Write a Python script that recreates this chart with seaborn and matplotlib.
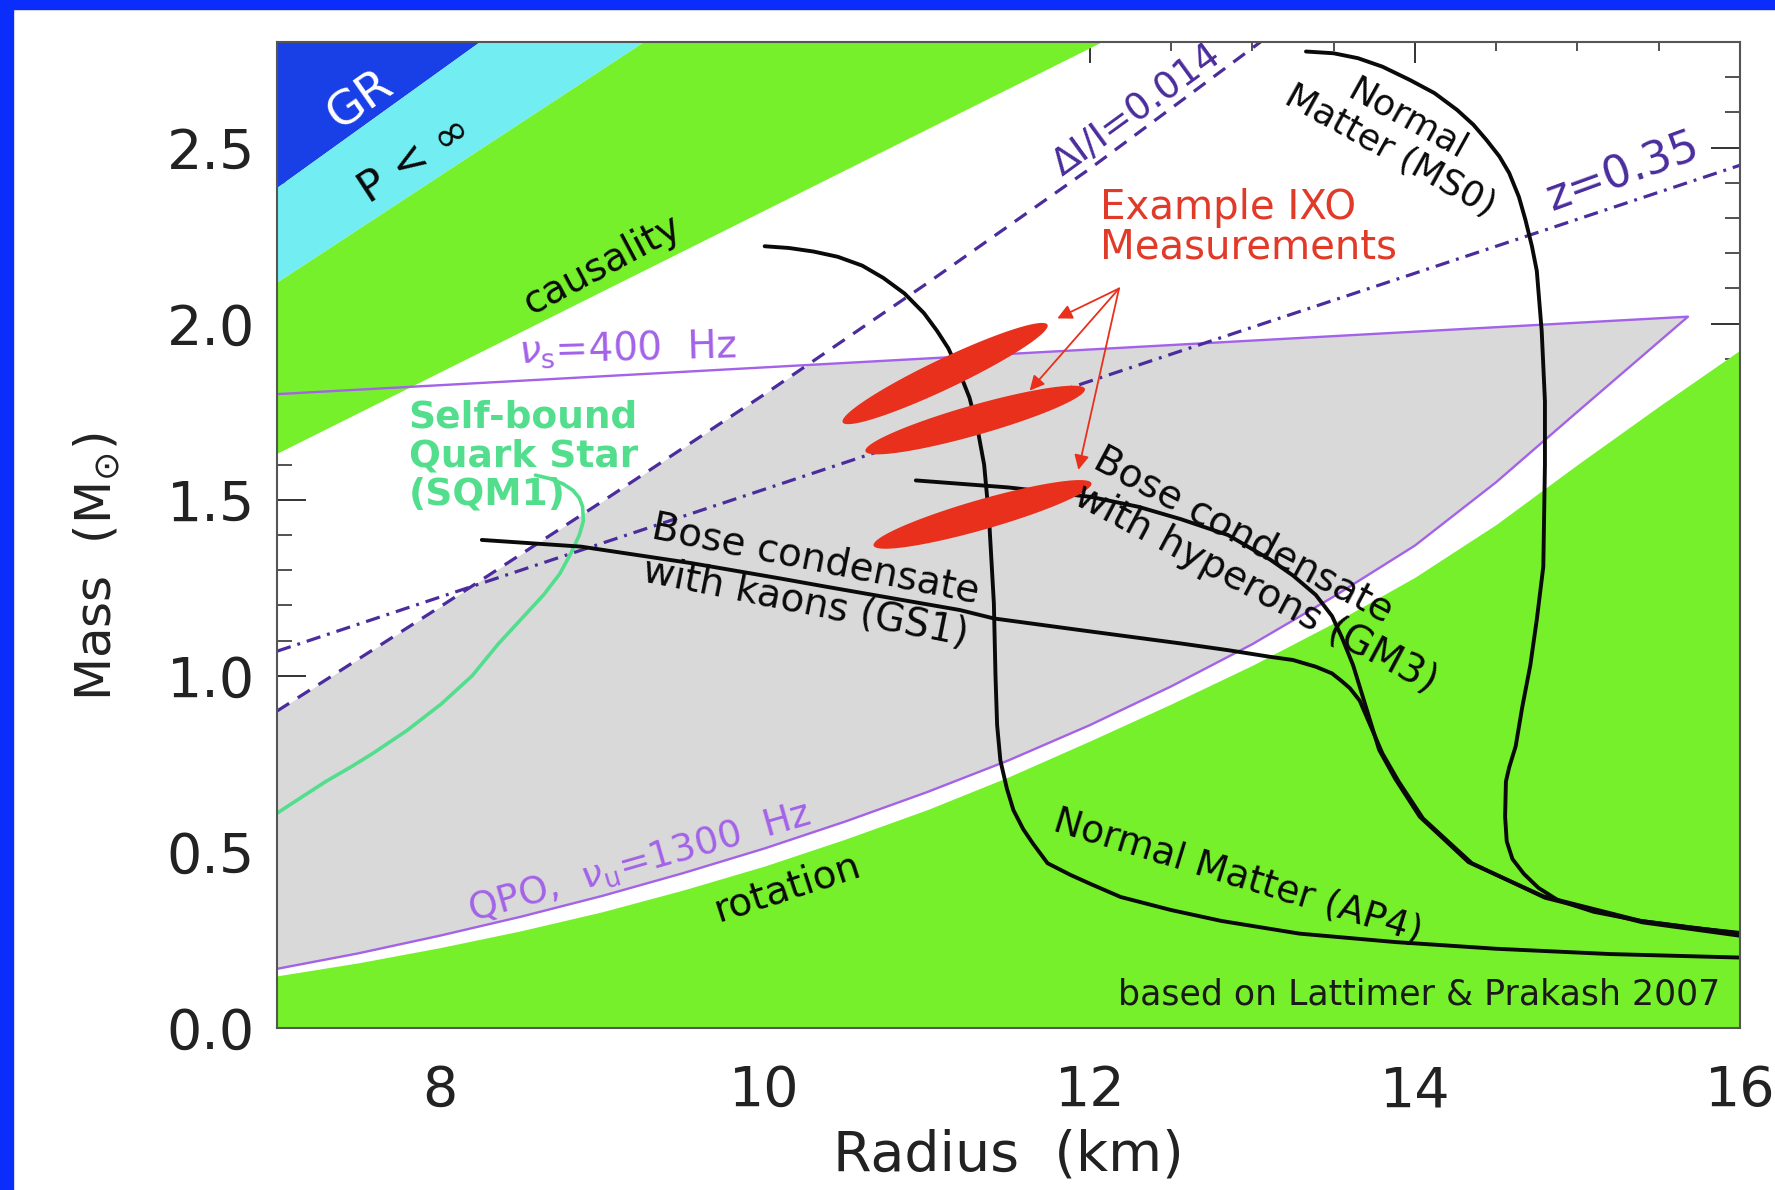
import numpy as np
import matplotlib
matplotlib.use("Agg")
import matplotlib.pyplot as plt
import seaborn as sns
from matplotlib.patches import Rectangle
from matplotlib.ticker import MultipleLocator

# ---------------- data ----------------
x_limits = [7.0, 16.0]
y_limits = [0.0, 2.8]
x_ticks = [8, 10, 12, 14, 16]
x_tick_labels = ["8", "10", "12", "14", "16"]
y_ticks = [0.0, 0.5, 1.0, 1.5, 2.0, 2.5]
y_tick_labels = ["0.0", "0.5", "1.0", "1.5", "2.0", "2.5"]

# straight exclusion edges: mass at R=7 km and radius where the edge reaches the top
gr_edge = [2.385, 8.25]
pinf_edge = [2.116, 9.26]
causal_edge = [1.63, 12.08]

# rotation limit (lower-right green area)
rot_r = [7.0, 7.5, 8.0, 8.5, 9.0, 9.5, 10.0, 10.5, 11.0, 11.5, 12.0, 12.5, 13.0, 13.5,
         14.0, 14.5, 15.0, 15.5, 16.0]
rot_m = [0.148, 0.185, 0.228, 0.276, 0.33, 0.392, 0.46, 0.537, 0.62, 0.713, 0.815, 0.92,
         1.03, 1.15, 1.28, 1.43, 1.60, 1.765, 1.925]

# QPO nu_u = 1300 Hz
qpo_r = [7.0, 7.5, 8.0, 8.5, 9.0, 9.5, 10.0, 10.5, 11.0, 11.5, 12.0, 12.5, 13.0, 13.5,
         14.0, 14.5, 15.0, 15.68]
qpo_m = [0.168, 0.212, 0.262, 0.316, 0.375, 0.44, 0.51, 0.587, 0.67, 0.76, 0.86, 0.97,
         1.09, 1.225, 1.37, 1.55, 1.75, 2.02]

# nu_s = 400 Hz
nus_r = [7.0, 15.68]
nus_m = [1.80, 2.02]

# Delta I / I = 0.014
dii_r = [7.0, 8.0, 9.0, 10.0, 11.0, 12.0, 13.05]
dii_m = [0.90, 1.195, 1.495, 1.80, 2.115, 2.44, 2.80]

# z = 0.35
z_r = [7.0, 16.0]
z_m = [1.07, 2.45]

# self-bound quark star SQM1
sqm_r = [7.0, 7.15, 7.3, 7.45, 7.59, 7.8, 8.01, 8.2, 8.36, 8.5, 8.64, 8.74, 8.81, 8.86,
         8.885, 8.88, 8.86, 8.82, 8.76, 8.68, 8.59]
sqm_m = [0.61, 0.655, 0.70, 0.74, 0.78, 0.845, 0.92, 1.0, 1.09, 1.16, 1.23, 1.29, 1.35, 1.40,
         1.44, 1.48, 1.505, 1.527, 1.545, 1.56, 1.57]

# Normal matter AP4
ap4_r = [10.0, 10.15, 10.3, 10.45, 10.6, 10.73, 10.86, 10.98, 11.06, 11.13, 11.2, 11.26,
         11.31, 11.35, 11.38, 11.41, 11.42, 11.43, 11.45, 11.49, 11.53, 11.59, 11.65, 11.74,
         11.88, 12.0, 12.19, 12.5, 12.81, 13.29, 13.88, 14.5, 15.2, 16.0]
ap4_m = [2.22, 2.215, 2.205, 2.19, 2.165, 2.13, 2.086, 2.03, 1.98, 1.93, 1.86, 1.79,
         1.70, 1.60, 1.45, 1.206, 1.0, 0.86, 0.76, 0.68, 0.619, 0.565, 0.524, 0.468,
         0.435, 0.41, 0.372, 0.335, 0.304, 0.268, 0.244, 0.225, 0.21, 0.20]

# Normal matter MS0
ms0_r = [13.33, 13.5, 13.65, 13.8, 13.97, 14.12, 14.26, 14.36, 14.44, 14.52, 14.58, 14.64,
         14.68, 14.72, 14.75, 14.78, 14.80, 14.80, 14.79, 14.75, 14.71, 14.66, 14.62, 14.58,
         14.56, 14.555, 14.565, 14.6, 14.67, 14.76, 14.88, 15.1, 15.39, 15.7, 16.0]
ms0_m = [2.773, 2.768, 2.754, 2.73, 2.692, 2.655, 2.607, 2.565, 2.522, 2.475, 2.428, 2.36,
         2.295, 2.22, 2.15, 1.98, 1.78, 1.60, 1.31, 1.16, 1.03, 0.91, 0.80, 0.74,
         0.70, 0.60, 0.53, 0.48, 0.438, 0.398, 0.363, 0.33, 0.304, 0.285, 0.27]

# Bose condensate with kaons GS1
gs1_r = [8.26, 8.87, 9.55, 10.09, 10.38, 11.2, 11.41, 11.94, 12.56, 12.85, 13.11, 13.25,
         13.39, 13.49, 13.55, 13.60, 13.66, 13.80, 13.90, 14.05, 14.35, 14.8, 15.4, 16.0]
gs1_m = [1.386, 1.367, 1.32, 1.277, 1.253, 1.187, 1.163, 1.13, 1.092, 1.073, 1.054, 1.045,
         1.026, 1.007, 0.985, 0.965, 0.93, 0.78, 0.70, 0.595, 0.468, 0.37, 0.30, 0.262]

# Bose condensate with hyperons GM3
gm3_r = [10.93, 11.5, 12.01, 12.3, 12.56, 12.85, 13.11, 13.25, 13.39, 13.49, 13.55, 13.62,
         13.66, 13.72, 13.78, 13.88, 14.03, 14.33, 14.79, 15.39, 16.0]
gm3_m = [1.555, 1.535, 1.508, 1.48, 1.445, 1.40, 1.33, 1.285, 1.23, 1.17, 1.11, 1.03,
         0.97, 0.88, 0.79, 0.707, 0.60, 0.471, 0.374, 0.304, 0.268]

# example IXO measurement ellipses: ends of the long axis
ell_r0 = [10.48, 10.62, 10.67]
ell_m0 = [1.72, 1.638, 1.37]
ell_r1 = [11.74, 11.97, 12.01]
ell_m1 = [1.997, 1.815, 1.547]

# arrows from the label to the ellipses
arrow_from = [12.18, 2.10]
arrow_to_r = [11.80, 11.63, 11.93]
arrow_to_m = [2.015, 1.81, 1.585]

# ---------------- style ----------------
sns.set_theme(style="ticks")
plt.rcParams["font.family"] = ["DejaVu Sans"]
plt.rcParams["mathtext.fontset"] = "dejavusans"

BLUE_FRAME = "#0b2dfc"
GR_BLUE = "#1840e6"
CYAN = "#72eef2"
GREEN = "#76f02a"
GRAY = "#d9d9d9"
PURPLE = "#a362e8"
INDIGO = "#4a2c9c"
QGREEN = "#52de8c"
RED = "#e8301c"
BLACK = "#0a0a0a"

W, H = 1775, 1190
fig = plt.figure(figsize=(W / 100, H / 100), dpi=100, facecolor="white")
ax = fig.add_axes([277 / W, 1 - 1028 / H, (1740 - 277) / W, (1028 - 42) / H])
ax.set_facecolor("white")
ax.set_xlim(*x_limits)
ax.set_ylim(*y_limits)

top = y_limits[1]
x0 = x_limits[0]

# exclusion bands in the upper left
ax.fill([x0, gr_edge[1], x0], [gr_edge[0], top, top], color=GR_BLUE, lw=0, zorder=1)
ax.fill([x0, pinf_edge[1], gr_edge[1], x0], [pinf_edge[0], top, top, gr_edge[0]],
        color=CYAN, lw=0, zorder=1)
ax.fill([x0, causal_edge[1], pinf_edge[1], x0], [causal_edge[0], top, top, pinf_edge[0]],
        color=GREEN, lw=0, zorder=1)

# rotation exclusion
ax.fill_between(rot_r, 0, rot_m, color=GREEN, lw=0, zorder=1)

# gray allowed region
xs = np.linspace(qpo_r[0], qpo_r[-1], 600)
low = np.interp(xs, qpo_r, qpo_m)
high = np.minimum(np.interp(xs, nus_r, nus_m), np.interp(xs, dii_r, dii_m))
ax.fill_between(xs, low, high, where=high > low, color=GRAY, lw=0, zorder=1)

# outlines
sns.lineplot(x=qpo_r + nus_r[::-1], y=qpo_m + nus_m[::-1], sort=False, estimator=None,
             color=PURPLE, lw=1.7, ax=ax, zorder=3)
sns.lineplot(x=dii_r, y=dii_m, sort=False, estimator=None, color=INDIGO, lw=2.3,
             linestyle=(0, (4.5, 3.2)), ax=ax, zorder=3)
sns.lineplot(x=z_r, y=z_m, sort=False, estimator=None, color=INDIGO, lw=2.3,
             linestyle=(0, (4.5, 2.2, 0.9, 2.2)), ax=ax, zorder=3)
sns.lineplot(x=sqm_r, y=sqm_m, sort=False, estimator=None, color=QGREEN, lw=2.6,
             ax=ax, zorder=3)

for rr, mm in [(ap4_r, ap4_m), (ms0_r, ms0_m), (gs1_r, gs1_m), (gm3_r, gm3_m)]:
    sns.lineplot(x=rr, y=mm, sort=False, estimator=None, color=BLACK, lw=2.8,
                 ax=ax, zorder=4)

# ellipses
HALF_W = 15.0
t = np.linspace(0, 2 * np.pi, 240)
for r0, m0, r1, m1 in zip(ell_r0, ell_m0, ell_r1, ell_m1):
    p0 = ax.transData.transform((r0, m0))
    p1 = ax.transData.transform((r1, m1))
    c = (p0 + p1) / 2
    d = p1 - p0
    half_len = np.hypot(*d) / 2
    u = d / np.hypot(*d)
    v = np.array([-u[1], u[0]])
    pts = c + np.outer(np.cos(t) * half_len, u) + np.outer(np.sin(t) * HALF_W, v)
    dp = ax.transData.inverted().transform(pts)
    ax.fill(dp[:, 0], dp[:, 1], color=RED, lw=0, zorder=5)

for rt, mt in zip(arrow_to_r, arrow_to_m):
    ax.annotate("", xy=(rt, mt), xytext=tuple(arrow_from),
                arrowprops=dict(arrowstyle="-|>", color=RED, lw=1.3,
                                mutation_scale=22, shrinkA=0, shrinkB=0),
                zorder=6)

# ---------------- text ----------------
def label(x, y, s, size, rot=0, color=BLACK, **kw):
    kw.setdefault("ha", "center")
    kw.setdefault("va", "center")
    ax.text(x, y, s, fontsize=size, rotation=rot, color=color,
            rotation_mode="anchor", zorder=7, **kw)

label(7.51, 2.635, "GR", 34, 35, color="white")
label(7.85, 2.465, "P < ∞", 31, 33)
label(9.0, 2.167, "causality", 28, 28)
label(9.155, 1.93, r"$\nu_{\rm s}$=400  Hz", 28, 1.5, color=PURPLE)
label(7.81, 1.624, "Self-bound\nQuark Star\n(SQM1)", 27, 0, color=QGREEN,
      ha="left", fontweight="bold", linespacing=1.08)
label(12.29, 2.607, "ΔI/I=0.014", 27, 36, color=INDIGO)
label(15.28, 2.43, "z=0.35", 32, 20, color=INDIGO)
label(12.06, 2.273, "Example IXO\nMeasurements", 29, 0, color="#e23a28",
      ha="left", linespacing=1.0)
label(13.90, 2.536, "Normal\nMatter (MS0)", 26, -29, multialignment="center",
      linespacing=1.08)
label(9.28, 1.361, "Bose condensate\nwith kaons (GS1)", 28, -11.3, ha="left",
      multialignment="left", linespacing=1.2)
label(11.98, 1.57, "Bose condensate\nwith hyperons (GM3)", 28, -28, ha="left",
      multialignment="left", linespacing=1.08)
label(12.91, 0.43, "Normal Matter (AP4)", 27, -17)
label(10.14, 0.40, "rotation", 28, 18)
label(9.23, 0.472, r"QPO,  $\nu_{\rm u}$=1300  Hz", 27, 16, color=PURPLE)
label(15.88, 0.096, "based on Lattimer & Prakash 2007", 25, 0, color="#1a1a1a", ha="right")

# ---------------- axes ----------------
ax.set_xticks(x_ticks)
ax.set_xticklabels(x_tick_labels)
ax.set_yticks(y_ticks)
ax.set_yticklabels(y_tick_labels)
ax.xaxis.set_minor_locator(MultipleLocator(0.5))
ax.yaxis.set_minor_locator(MultipleLocator(0.1))
ax.tick_params(axis="x", which="major", direction="in", top=True, length=15, width=1.4,
               color="#333333", labelsize=40, labelcolor="#222222", pad=26)
ax.tick_params(axis="x", which="minor", direction="in", top=True, length=6.5, width=1.2,
               color="#333333")
ax.tick_params(axis="y", which="major", direction="in", right=True, length=21, width=1.4,
               color="#333333", labelsize=40, labelcolor="#222222", pad=16)
ax.tick_params(axis="y", which="minor", direction="in", right=True, length=11, width=1.2,
               color="#333333")
for sp in ax.spines.values():
    sp.set_visible(True)
    sp.set_linewidth(1.5)
    sp.set_color("#555555")
    sp.set_zorder(8)

ax.set_xlabel("Radius  (km)", fontsize=40, color="#222222")
ax.xaxis.label.set_va("center")
ax.xaxis.set_label_coords(0.5, -(1155 - 1028) / 986)
ax.set_ylabel(r"Mass  (M$_{\odot}$)", fontsize=36, color="#222222")
ax.yaxis.label.set_va("center")
ax.yaxis.set_label_coords(-(277 - 97) / 1463, (1028 - 567) / 986)

# blue frame (top and left)
fig.patches.append(Rectangle((0, 1 - 9 / H), 1, 9 / H, transform=fig.transFigure,
                             color=BLUE_FRAME, zorder=10))
fig.patches.append(Rectangle((0, 0), 13 / W, 1, transform=fig.transFigure,
                             color=BLUE_FRAME, zorder=10))

fig.savefig("out.png", dpi=100, facecolor="white")
